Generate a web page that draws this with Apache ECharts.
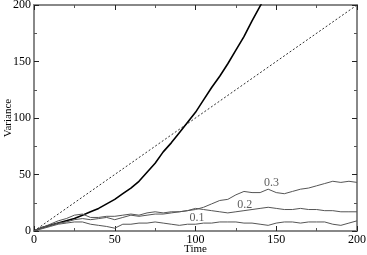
<!DOCTYPE html>
<html><head><meta charset="utf-8">
<script src="https://cdn.jsdelivr.net/npm/echarts@6/dist/echarts.min.js"></script>
<style>html,body{margin:0;padding:0;background:#fff}#c{width:367px;height:255px}</style>
</head><body><div id="c"></div>
<script>
const times = [0,5,10,15,20,25,30,35,40,45,50,55,60,65,70,75,80,85,90,95,100,105,110,115,120,125,130,135,140,145,150,155,160,165,170,175,180,185,190,195,200];
const thick = [0,3,5,7,9,11,14,17,20,24,28,33,38,44,52,60,70,78,87,96,105,116,127,137,148,160,172,186,199,212,225];
const s03 = [0,3,6,9,11,14,15,12,12,13,13,14,15,14,16,17,16,17,17,18,19,21,24,27,28,32,35,34,34,37,34,33,35,37,38,40,42,44,43,44,43];
const s02 = [0,3,5,7,8,10,11,10,11,12,10,12,14,13,14,15,15,16,17,18,20,19,18,17,16,17,18,19,20,21,20,19,19,20,19,19,18,18,17,17,17];
const s01 = [0,2,4,6,7,8,8,6,5,4,2.5,6,6,7,7,8,7,6,5,6,6,7,7,8,8,8,7,7,6,5,7,8,8,7,8,8,8,6,5,7,9];
const diag = [[0,0],[200,200]];
const labels = [{name:'0.3', x:147, y:43},{name:'0.2', x:130.5, y:23},{name:'0.1', x:101, y:11.5}];

const font = 'Liberation Serif';
const pair = (xs, ys) => ys.map((v,i)=>[xs[i], v]);
const axisCommon = {
  min:0, max:200, interval:50,
  axisLine:{show:true, onZero:false, lineStyle:{color:'#888', width:2}},
  axisTick:{show:true, inside:true, length:5, lineStyle:{color:'#222', width:1}},
  minorTick:{show:true, splitNumber:2, length:3, lineStyle:{color:'#555', width:1}},
  splitLine:{show:false}
};
const chart = echarts.init(document.getElementById('c'), null, {renderer:'canvas'});
chart.setOption({
  animation:false,
  grid:{left:34, right:10, top:5, bottom:24, containLabel:false, outerBoundsMode:'none',
    show:true, borderColor:'#888', borderWidth:2, backgroundColor:'transparent'},
  xAxis:[
    Object.assign({type:'value', position:'bottom', name:'Time', nameLocation:'middle', nameGap:13, nameMoveOverlap:false,
      nameTextStyle:{fontFamily:font, fontSize:11, color:'#000'},
      axisLabel:{fontFamily:font, fontSize:12, color:'#000', margin:3}}, axisCommon),
    Object.assign({type:'value', position:'top', axisLabel:{show:false}}, axisCommon)
  ],
  yAxis:[
    Object.assign({type:'value', position:'left', name:'Variance', nameLocation:'middle', nameGap:20, nameMoveOverlap:false,
      nameTextStyle:{fontFamily:font, fontSize:11, color:'#000'},
      axisLabel:{fontFamily:font, fontSize:12, color:'#000', margin:3}}, axisCommon),
    Object.assign({type:'value', position:'right', axisLabel:{show:false}}, axisCommon)
  ],
  series:[
    {type:'line', data:diag, symbol:'none', lineStyle:{color:'#333', width:1, type:[2,2]}},
    {type:'line', data:pair(times, thick), symbol:'none', clip:true, lineStyle:{color:'#000', width:1.6}},
    {type:'line', data:pair(times, s03), symbol:'none', lineStyle:{color:'#555', width:1}},
    {type:'line', data:pair(times, s02), symbol:'none', lineStyle:{color:'#555', width:1}},
    {type:'line', data:pair(times, s01), symbol:'none', lineStyle:{color:'#555', width:1}},
    {type:'scatter', symbolSize:0, data:labels.map(l=>({name:l.name, value:[l.x,l.y]})),
      label:{show:true, position:'inside', formatter:'{b}', fontFamily:font, fontSize:12, color:'#333'}}
  ]
});
</script></body></html>
